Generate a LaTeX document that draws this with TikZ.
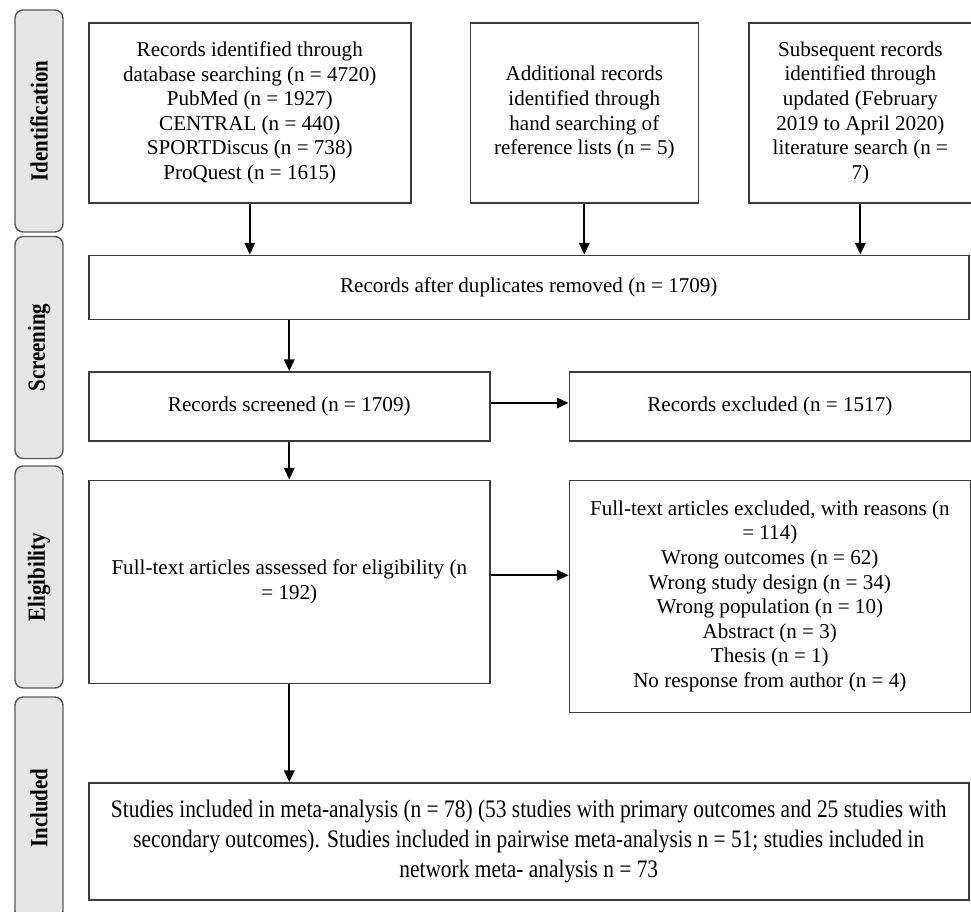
\documentclass[tikz,border=0pt]{standalone}
\usepackage{fontspec}
\setmainfont{Liberation Serif}
\newfontfamily\narrowserif[FakeStretch=0.85]{Liberation Serif}
\usepackage{xcolor}
\usepackage{tikz}
\usetikzlibrary{arrows.meta, positioning}
\definecolor{frame}{HTML}{3C3C3C}
\definecolor{phasefill}{HTML}{E6E6E6}

\begin{document}
\begin{tikzpicture}[
    x=0.03cm, y=-0.03cm,
    box/.style={rectangle, draw=frame, line width=1.3pt, fill=white,
                inner sep=2pt, align=center,
                font=\fontsize{18}{21}\selectfont},
    phase/.style={rectangle, rounded corners=7pt, draw=frame!85, fill=phasefill,
                  line width=1.2pt, rotate=90, minimum width=6.66cm,
                  minimum height=1.44cm,
                  font=\narrowserif\bfseries\fontsize{21}{24}\selectfont},
    arrow/.style={-{Triangle[length=10pt, width=9pt]}, line width=1.5pt, color=black}
]

\useasboundingbox (0,0) rectangle (971,911);
\clip (0,0) rectangle (971,911);

\node[phase] (identification) at (39,121) {Identification};
\node[phase] (screening) at (39,347.5) {Screening};
\node[phase] (eligibility) at (39,577) {Eligibility};
\node[phase] (included) at (39,808) {Included};

\node[box, minimum width=9.66cm, minimum height=5.4cm, anchor=north west] (database) at (88,22)
    {Records identified through\\database searching (n = 4720)\\PubMed (n = 1927)\\CENTRAL (n = 440)\\SPORTDiscus (n = 738)\\ProQuest (n = 1615)};
\node[box, minimum width=6.84cm, minimum height=5.4cm, right=1.74cm of database] (hand)
    {Additional records\\identified through\\hand searching of\\reference lists (n = 5)};
\node[box, minimum width=6.69cm, minimum height=5.4cm, right=1.47cm of hand] (update)
    {Subsequent records\\identified through\\updated (February\\2019 to April 2020)\\literature search (n =\\7)};

\node[box, minimum width=26.4cm, minimum height=1.92cm, below right=1.53cm and 0cm of database.south west] (dedup)
    {Records after duplicates removed (n = 1709)};

\node[box, minimum width=12.03cm, minimum height=2.07cm, below right=1.53cm and 0cm of dedup.south west] (screened)
    {Records screened (n = 1709)};
\node[box, minimum width=12.03cm, minimum height=2.07cm, right=2.34cm of screened] (excluded)
    {Records excluded (n = 1517)};

\node[box, minimum width=12.03cm, minimum height=6.09cm, below right=1.14cm and 0cm of screened.south west] (fulltext)
    {Full-text articles assessed for eligibility (n\\= 192)};
\node[box, minimum width=12.03cm, minimum height=6.96cm, right=2.34cm of fulltext.north east, anchor=north west] (reasons)
    {Full-text articles excluded, with reasons (n\\= 114)\\Wrong outcomes (n = 62)\\Wrong study design (n = 34)\\Wrong population (n = 10)\\Abstract (n = 3)\\Thesis (n = 1)\\No response from author (n = 4)};

\node[box, minimum width=26.4cm, minimum height=3.51cm, below right=2.94cm and 0cm of fulltext.south west,
      font=\narrowserif\fontsize{21.5}{25.5}\selectfont] (final)
    {Studies included in meta-analysis (n = 78) (53 studies with primary outcomes and 25 studies with\\secondary outcomes). Studies included in pairwise meta-analysis n = 51; studies included in\\network meta- analysis n = 73};

\draw[arrow] (database.south) -- (database.south |- dedup.north);
\draw[arrow] (hand.south) -- (hand.south |- dedup.north);
\draw[arrow] (update.south) -- (update.south |- dedup.north);
\draw[arrow] (dedup.south -| screened.north) -- (screened.north);
\draw[arrow] ([yshift=0.1cm]screened.east) -- ([yshift=0.1cm]screened.east -| excluded.west);
\draw[arrow] (screened) -- (fulltext);
\draw[arrow] ([yshift=0.2cm]fulltext.east) -- ([yshift=0.2cm]fulltext.east -| reasons.west);
\draw[arrow] (fulltext.south) -- (fulltext.south |- final.north);

\end{tikzpicture}
\end{document}
